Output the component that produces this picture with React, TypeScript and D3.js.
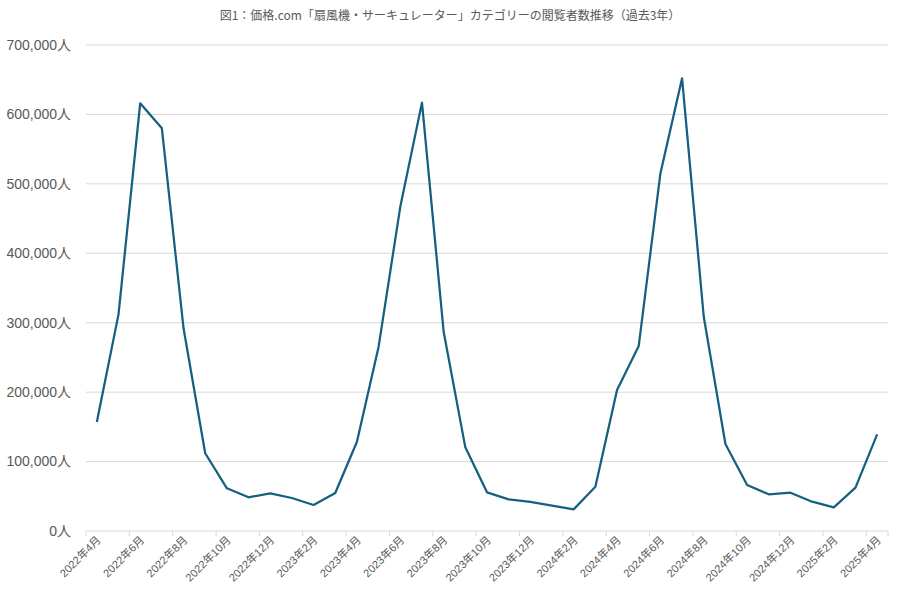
import React from "react";
import * as d3 from "d3";

const title = "図1：価格.com「扇風機・サーキュレーター」カテゴリーの閲覧者数推移（過去3年）";

const months: string[] = [
  "2022年4月", "2022年5月", "2022年6月", "2022年7月", "2022年8月", "2022年9月",
  "2022年10月", "2022年11月", "2022年12月", "2023年1月", "2023年2月", "2023年3月",
  "2023年4月", "2023年5月", "2023年6月", "2023年7月", "2023年8月", "2023年9月",
  "2023年10月", "2023年11月", "2023年12月", "2024年1月", "2024年2月", "2024年3月",
  "2024年4月", "2024年5月", "2024年6月", "2024年7月", "2024年8月", "2024年9月",
  "2024年10月", "2024年11月", "2024年12月", "2025年1月", "2025年2月", "2025年3月",
  "2025年4月",
];

const viewers: number[] = [
  157000, 312000, 616000, 580000, 292000, 112000,
  61500, 48500, 54300, 47500, 37500, 54700,
  128600, 265500, 467000, 617000, 287000, 120500,
  55700, 45600, 41800, 36500, 31200, 63800,
  203000, 266500, 515000, 652000, 308600, 125300,
  66300, 52800, 55200, 42200, 34100, 62400,
  139200,
];

const yTicks: number[] = [0, 100000, 200000, 300000, 400000, 500000, 600000, 700000];

const W = 900;
const H = 600;
const left = 86;
const right = 888;
const top = 45;
const bottom = 531;

export default function App() {
  const x = d3.scaleBand<string>().domain(months).range([left, right]).padding(0);
  const y = d3.scaleLinear().domain([0, 700000]).range([bottom, top]);
  const line = d3
    .line<number>()
    .x((_, i) => (x(months[i]) as number) + x.bandwidth() / 2)
    .y((d) => y(d));
  const fmt = d3.format(",");
  const font = "'Liberation Sans', 'Noto Sans CJK JP', sans-serif";
  const labelColor = "#595959";
  const grid = "#d9d9d9";

  const tickIdx = months.map((_, i) => i).filter((i) => i % 2 === 0);

  return (
    <svg
      width={W}
      height={H}
      style={{ position: "absolute", left: 0, top: 0, background: "#fff" }}
      fontFamily={font}
    >
      <rect x={0} y={0} width={W} height={H} fill="#fff" />
      <text
        x={450}
        y={20}
        textAnchor="middle"
        fontSize={12}
        fill={labelColor}
        fontFamily="'Noto Sans CJK JP', sans-serif"
      >
        {title}
      </text>
      {yTicks.map((t) => (
        <g key={t}>
          <line x1={left} x2={right} y1={y(t)} y2={y(t)} stroke={grid} strokeWidth={1} />
          <text
            x={71}
            y={y(t)}
            dy="0.35em"
            textAnchor="end"
            fontSize={14}
            fill={labelColor}
          >
            {fmt(t) + "人"}
          </text>
        </g>
      ))}
      {tickIdx.map((i) => {
        const xx = x(months[i]) as number;
        return <line key={"t" + i} x1={xx} x2={xx} y1={bottom} y2={bottom + 5} stroke={grid} />;
      })}
      <line x1={right} x2={right} y1={bottom} y2={bottom + 5} stroke={grid} />
      {tickIdx.map((i) => {
        const cx = (x(months[i]) as number) + x.bandwidth() / 2;
        return (
          <text
            key={"l" + i}
            transform={`translate(${cx + 2},${bottom + 7}) rotate(-45)`}
            textAnchor="end"
            dy="0.35em"
            fontSize={11}
            fill={labelColor}
          >
            {months[i]}
          </text>
        );
      })}
      <path d={line(viewers) || ""} fill="none" stroke="#156082" strokeWidth={2.25} strokeLinejoin="round" />
    </svg>
  );
}
